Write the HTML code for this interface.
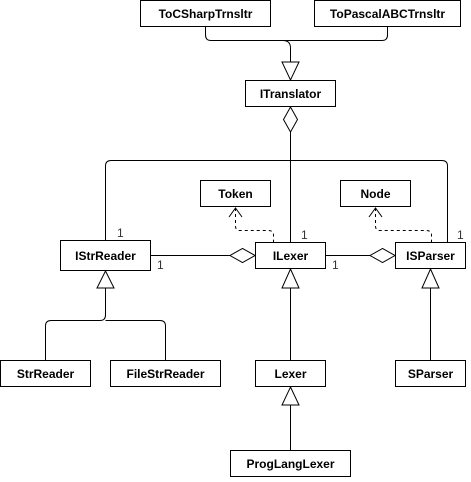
<!DOCTYPE html>
<html><head><style>
body{margin:0;background:#fff}
svg text{font-family:"Liberation Sans",Arial,sans-serif;font-size:12px}
</style></head><body>
<svg width="471" height="477" viewBox="0 0 471 477" xmlns="http://www.w3.org/2000/svg">
<g fill="#fff" stroke="#000" stroke-width="1">
<rect x="140.5" y="0.5" width="130" height="26"/>
<rect x="314.5" y="0.5" width="146" height="26"/>
<rect x="245.5" y="80.5" width="90" height="26"/>
<rect x="200.5" y="180.5" width="70" height="26"/>
<rect x="340.5" y="180.5" width="70" height="26"/>
<rect x="60.5" y="240.5" width="90" height="30"/>
<rect x="255.5" y="242.5" width="70" height="26"/>
<rect x="395.5" y="242.5" width="70" height="26"/>
<rect x="0.5" y="360.5" width="90" height="26"/>
<rect x="110.5" y="360.5" width="110" height="26"/>
<rect x="255.5" y="360.5" width="70" height="26"/>
<rect x="395.5" y="360.5" width="70" height="26"/>
<rect x="230.5" y="450.5" width="120" height="26"/>
</g>
<g fill="none" stroke="#000" stroke-width="1">
<path d="M205.5 27 V35 Q205.5 40.5 211 40.5 H382 Q387.5 40.5 387.5 35 V27"/>
<path d="M283 40.5 Q290.5 40.5 290.5 48 V62"/>
<path d="M282 62 H299 L290.5 80 Z" fill="#fff"/>
<path d="M290.5 107 L297.5 119.5 L290.5 132 L283.5 119.5 Z" fill="#fff"/>
<path d="M290.5 132 V242"/>
<path d="M105.5 240 V166 Q105.5 160.5 111 160.5 H442 Q447.5 160.5 447.5 166 V242"/>
<path d="M151 255.5 H230"/>
<path d="M230 255.5 L242.5 248.5 L255 255.5 L242.5 262.5 Z" fill="#fff"/>
<path d="M326 255.5 H370"/>
<path d="M370 255.5 L382.5 248.5 L395 255.5 L382.5 262.5 Z" fill="#fff"/>
<path d="M235.5 208 V226 Q235.5 230.5 240 230.5 H268 Q273.5 230.5 273.5 235 V242" stroke-dasharray="3,3"/>
<path d="M229 217 L235.5 208 L242 217"/>
<path d="M375.5 208 V226 Q375.5 230.5 380 230.5 H426 Q431.5 230.5 431.5 235 V242" stroke-dasharray="3,3"/>
<path d="M369 217 L375.5 208 L382 217"/>
<path d="M105.5 271 L114 288 H97 Z" fill="#fff"/>
<path d="M105.5 288 V315 Q105.5 320.5 100 320.5 H51 Q45.5 320.5 45.5 326 V360"/>
<path d="M105.5 320.5 H160 Q165.5 320.5 165.5 326 V360"/>
<path d="M290.5 269 L299 288 H282 Z" fill="#fff"/>
<path d="M290.5 288 V360"/>
<path d="M430.5 269 L439 288 H422 Z" fill="#fff"/>
<path d="M430.5 288 V360"/>
<path d="M290.5 387 L299 405 H282 Z" fill="#fff"/>
<path d="M290.5 405 V450"/>
</g>
<g text-anchor="middle" font-weight="bold" fill="#000">
<text x="205.5" y="18">ToCSharpTrnsltr</text>
<text x="387.5" y="18">ToPascalABCTrnsltr</text>
<text x="290.5" y="98">ITranslator</text>
<text x="235.5" y="198">Token</text>
<text x="375.5" y="198">Node</text>
<text x="105.5" y="260">IStrReader</text>
<text x="290.5" y="260">ILexer</text>
<text x="430.5" y="260">ISParser</text>
<text x="45.5" y="378">StrReader</text>
<text x="165.5" y="378">FileStrReader</text>
<text x="290.5" y="378">Lexer</text>
<text x="430.5" y="378">SParser</text>
<text x="290.5" y="468">ProgLangLexer</text>
</g>
<g fill="#333" font-size="12">
<text x="117" y="237">1</text>
<text x="157" y="269">1</text>
<text x="301" y="239">1</text>
<text x="332" y="269">1</text>
<text x="457" y="239">1</text>
</g>
</svg>
</body></html>
